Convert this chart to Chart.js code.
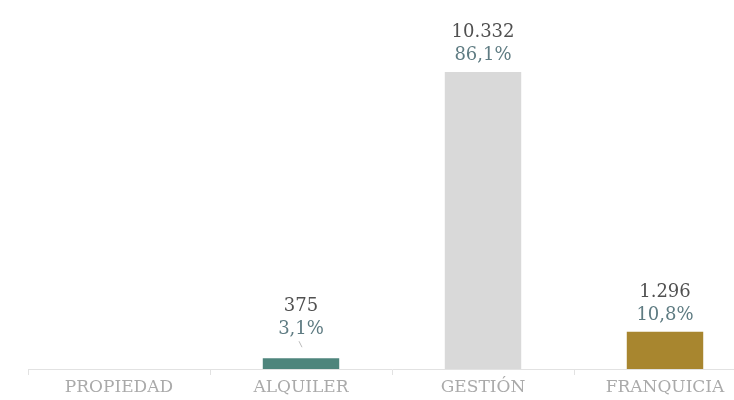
<!DOCTYPE html>
<html>
<head>
<meta charset="utf-8">
<script src="https://cdn.jsdelivr.net/npm/chart.js@4"></script>
<style>
  html, body { margin: 0; padding: 0; background: #fff; overflow: hidden; }
  #wrap { position: relative; width: 762px; height: 400px; }
</style>
</head>
<body>
<div id="wrap"><canvas id="tipoChart"></canvas></div>
<script>
const categories = ['PROPIEDAD', 'ALQUILER', 'GESTIÓN', 'FRANQUICIA'];
const values = [0, 375, 10332, 1296];
const percents = ['', '3,1%', '86,1%', '10,8%'];
const barColors = ['#4e857c', '#4e857c', '#d9d9d9', '#a8862f'];

const serif = '"DejaVu Serif", Georgia, serif';

function formatMiles(n) {
    return String(n).replace(/\B(?=(\d{3})+(?!\d))/g, '.');
}

// etiquetas de valor y porcentaje encima de cada barra
const barLabels = {
    id: 'barLabels',
    afterDatasetsDraw(chart) {
        const ctx = chart.ctx;
        const meta = chart.getDatasetMeta(0);
        ctx.save();
        ctx.textAlign = 'center';
        ctx.textBaseline = 'alphabetic';
        ctx.font = '18px ' + serif;
        meta.data.forEach((bar, i) => {
            if (!values[i]) return;
            const small = bar.base - bar.y < 20;
            const bottom = bar.y - (small ? 24 : 12);
            ctx.fillStyle = '#5e7b82';
            ctx.fillText(percents[i], bar.x, bottom);
            ctx.fillStyle = '#505050';
            ctx.fillText(formatMiles(values[i]), bar.x, bottom - 23);
            if (small) {
                ctx.strokeStyle = '#bbbbbb';
                ctx.lineWidth = 1;
                ctx.beginPath();
                ctx.moveTo(bar.x - 2, bottom + 7);
                ctx.lineTo(bar.x + 1, bottom + 13);
                ctx.stroke();
            }
        });
        ctx.restore();
    }
};

const ctx = document.getElementById('tipoChart').getContext('2d');

const myChart = new Chart(ctx, {
    type: 'bar',
    data: {
        labels: categories,
        datasets: [{
            data: values,
            backgroundColor: barColors,
            borderWidth: 0,
            categoryPercentage: 1,
            barPercentage: 0.42
        }]
    },
    options: {
        responsive: true,
        maintainAspectRatio: false,
        animation: false,
        layout: { padding: { left: 28, right: 6, top: 0, bottom: 0 } },
        plugins: {
            legend: { display: false },
            tooltip: { enabled: false }
        },
        scales: {
            x: {
                afterFit(scale) { scale.height = 31; },
                border: { display: true, color: '#e2e2e2', width: 1 },
                grid: {
                    display: true,
                    drawOnChartArea: false,
                    drawTicks: true,
                    tickLength: 6,
                    color: '#e2e2e2',
                    offset: true
                },
                ticks: {
                    color: '#aaaaaa',
                    padding: 2,
                    font: { family: serif, size: 17 }
                }
            },
            y: {
                display: false,
                min: 0,
                max: 12840
            }
        }
    },
    plugins: [barLabels]
});
</script>
</body>
</html>
